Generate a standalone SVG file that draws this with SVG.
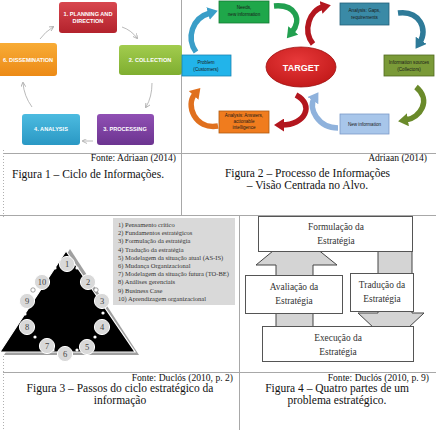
<svg xmlns="http://www.w3.org/2000/svg" width="436" height="430" viewBox="0 0 436 430">
<style>
.grid{stroke:#a8a8a8;stroke-width:1;fill:none}
.dot{stroke:#b0b0b0;stroke-width:1;stroke-dasharray:1,2;fill:none}
.cap{font-family:"Liberation Serif",serif;font-size:11.5px;fill:#111}
.src{font-family:"Liberation Serif",serif;font-size:9.6px;fill:#111}
.f1t{font-family:"Liberation Sans",Arial,sans-serif;font-size:5.6px;font-weight:bold;fill:#fff;text-anchor:middle}
.f2t{font-family:"Liberation Sans",Arial,sans-serif;font-size:4.6px;fill:#1a1a1a;text-anchor:middle}
.f1a{stroke:#a8a8a8;stroke-width:0.8;fill:none;marker-end:url(#ga)}
.f2a{stroke-width:5.5;fill:none;stroke-linecap:butt}
.lst{font-family:"Liberation Serif",serif;font-size:6.5px;fill:#333}
.circ{fill:#d9d9d9;stroke:#fff;stroke-width:1}
.num{font-family:"Liberation Serif",serif;font-size:8.5px;fill:#444;text-anchor:middle}
.sdot{fill:#fff;stroke:none}
.gear{fill:#fff;stroke:#666;stroke-width:0.6}
.f4b{fill:#fff;stroke:#555;stroke-width:1}
.f4a{fill:#d4d4d4;stroke:#444;stroke-width:1}
.f4t{font-family:"Liberation Serif",serif;font-size:9.4px;fill:#333;text-anchor:middle}
</style>
<defs>
<marker id="ga" markerUnits="userSpaceOnUse" markerWidth="5" markerHeight="5" refX="4" refY="2.5" orient="auto"><path d="M0,0 L5,2.5 L0,5" fill="none" stroke="#a8a8a8" stroke-width="0.8"/></marker>
<marker id="mBlue" markerUnits="userSpaceOnUse" markerWidth="11" markerHeight="13" refX="2" refY="6.5" orient="auto"><path d="M0,0 L10,6.5 L0,13 z" fill="#3a9ec8"/></marker>
<marker id="mGreen" markerUnits="userSpaceOnUse" markerWidth="11" markerHeight="13" refX="2" refY="6.5" orient="auto"><path d="M0,0 L10,6.5 L0,13 z" fill="#22a050"/></marker>
<marker id="mRed" markerUnits="userSpaceOnUse" markerWidth="11" markerHeight="13" refX="2" refY="6.5" orient="auto"><path d="M0,0 L10,6.5 L0,13 z" fill="#b3161e"/></marker>
<marker id="mTeal" markerUnits="userSpaceOnUse" markerWidth="11" markerHeight="13" refX="2" refY="6.5" orient="auto"><path d="M0,0 L10,6.5 L0,13 z" fill="#2e7a98"/></marker>
<marker id="mOlive" markerUnits="userSpaceOnUse" markerWidth="11" markerHeight="13" refX="2" refY="6.5" orient="auto"><path d="M0,0 L10,6.5 L0,13 z" fill="#6a8a2a"/></marker>
<marker id="mLBlue" markerUnits="userSpaceOnUse" markerWidth="11" markerHeight="13" refX="2" refY="6.5" orient="auto"><path d="M0,0 L10,6.5 L0,13 z" fill="#8fb2dc"/></marker>
<marker id="mOrange" markerUnits="userSpaceOnUse" markerWidth="11" markerHeight="13" refX="2" refY="6.5" orient="auto"><path d="M0,0 L10,6.5 L0,13 z" fill="#e0701e"/></marker>
<linearGradient id="gRed" x1="0" y1="0" x2="0" y2="1"><stop offset="0" stop-color="#d8474f"/><stop offset="1" stop-color="#b3222c"/></linearGradient>
<linearGradient id="gGreen" x1="0" y1="0" x2="0" y2="1"><stop offset="0" stop-color="#a2cc4e"/><stop offset="1" stop-color="#7fae30"/></linearGradient>
<linearGradient id="gPurple" x1="0" y1="0" x2="0" y2="1"><stop offset="0" stop-color="#9050b4"/><stop offset="1" stop-color="#6c3490"/></linearGradient>
<linearGradient id="gTeal" x1="0" y1="0" x2="0" y2="1"><stop offset="0" stop-color="#4cbbe0"/><stop offset="1" stop-color="#2a98c4"/></linearGradient>
<linearGradient id="gOrange" x1="0" y1="0" x2="0" y2="1"><stop offset="0" stop-color="#f8ac36"/><stop offset="1" stop-color="#ec8a16"/></linearGradient>
<radialGradient id="gTarget" cx="0.45" cy="0.35" r="0.7"><stop offset="0" stop-color="#e8393a"/><stop offset="1" stop-color="#c01818"/></radialGradient>
</defs>
<rect width="436" height="430" fill="#fff"/>

<!-- table grid -->
<g id="grid">
<line class="grid" x1="181.5" y1="0" x2="181.5" y2="215"/>
<line class="grid" x1="3" y1="153.5" x2="436" y2="153.5"/>
<line class="grid" x1="0" y1="215.5" x2="436" y2="215.5"/>
<line class="grid" x1="239.5" y1="215" x2="239.5" y2="430"/>
<line class="grid" x1="3" y1="372.5" x2="436" y2="372.5"/>
<line class="dot" x1="3.5" y1="150" x2="3.5" y2="218"/>
<line class="dot" x1="3.5" y1="356" x2="3.5" y2="430"/>
</g>

<!-- Figure 1 -->
<g id="fig1-connectors">
<path class="f1a" d="M122,27 Q131,30 137,38"/>
<path class="f1a" d="M152,83 Q152,97 146,107"/>
<path class="f1a" d="M93,141 L83,141"/>
<path class="f1a" d="M32,107 Q24,96 23,83"/>
<path class="f1a" d="M40,39 Q45,32 53,27"/>
</g>
<g id="f1-planning"><rect x="59" y="2" width="58" height="31" rx="3" fill="url(#gRed)"/><text class="f1t" x="88" y="16">1.  PLANNING AND</text><text class="f1t" x="88" y="22.5">DIRECTION</text></g>
<g id="f1-collection"><rect x="119" y="45" width="63" height="30" rx="3" fill="url(#gGreen)"/><text class="f1t" x="150" y="62">2. COLLECTION</text></g>
<g id="f1-processing"><rect x="97" y="114" width="57" height="31" rx="3" fill="url(#gPurple)"/><text class="f1t" x="125" y="131">3. PROCESSING</text></g>
<g id="f1-analysis"><rect x="22" y="114" width="58" height="31" rx="3" fill="url(#gTeal)"/><text class="f1t" x="51" y="131">4.  ANALYSIS</text></g>
<g id="f1-dissemination"><rect x="-3" y="43" width="60" height="33" rx="3" fill="url(#gOrange)"/><text class="f1t" x="28" y="61.5">6.  DISSEMINATION</text></g>

<!-- Figure 2 -->
<g id="fig2-connectors">
<path class="f2a" stroke="#3a9ec8" marker-end="url(#mBlue)" d="M196,52 C186,38 192,18 210,13"/>
<path class="f2a" stroke="#22a050" marker-end="url(#mGreen)" d="M274,6 C296,4 302,20 292,32"/>
<path class="f2a" stroke="#b3161e" marker-end="url(#mRed)" d="M313,44 C302,30 310,10 323,7"/>
<path class="f2a" stroke="#2e7a98" marker-end="url(#mTeal)" d="M398,13 C420,10 428,30 420,42"/>
<path class="f2a" stroke="#6a8a2a" marker-end="url(#mOlive)" d="M416,87 C432,100 420,118 406,120"/>
<path class="f2a" stroke="#8fb2dc" marker-end="url(#mLBlue)" d="M338,128 C318,128 308,108 314,99"/>
<path class="f2a" stroke="#b3161e" marker-end="url(#mRed)" d="M296,95 C315,105 305,125 282,125"/>
<path class="f2a" stroke="#e0701e" marker-end="url(#mOrange)" d="M218,126 C195,130 185,105 195,94"/>
</g>
<g id="f2-needs"><rect x="219" y="1" width="50" height="22" fill="#1fa74a" stroke="#127a34" stroke-width="0.8"/><text class="f2t" x="244" y="9">Needs,</text><text class="f2t" x="244" y="16">new information</text></g>
<g id="f2-gaps"><rect x="340" y="3" width="49" height="22" fill="#3a8aa6" stroke="#23607a" stroke-width="0.8"/><text class="f2t" x="364.5" y="12">Analysis: Gaps,</text><text class="f2t" x="364.5" y="19">requirements</text></g>
<g id="f2-problem"><rect x="182" y="55" width="49" height="21" fill="#22b4ea" stroke="#1a84b4" stroke-width="0.8"/><text class="f2t" x="206" y="64">Problem</text><text class="f2t" x="206" y="71">(Customers)</text></g>
<g id="f2-target"><ellipse cx="301" cy="67" rx="35" ry="20" fill="url(#gTarget)" stroke="#a01212" stroke-width="0.8"/><text x="301" y="70.5" font-family="Liberation Sans,Arial,sans-serif" font-size="9" font-weight="bold" fill="#fff" text-anchor="middle">TARGET</text></g>
<g id="f2-sources"><rect x="384" y="55" width="50" height="21" fill="#7a9a38" stroke="#506a20" stroke-width="0.8"/><text class="f2t" x="409" y="64">Information sources</text><text class="f2t" x="409" y="71">(Collectors)</text></g>
<g id="f2-answers"><rect x="219" y="111" width="50" height="22" fill="#f07c1e" stroke="#b05a10" stroke-width="0.8"/><text class="f2t" x="244" y="117">Analysis: Answers,</text><text class="f2t" x="244" y="123">actionable</text><text class="f2t" x="244" y="129">intelligence</text></g>
<g id="f2-newinfo"><rect x="340" y="114" width="49" height="20" fill="#a8c6ea" stroke="#7a9ac8" stroke-width="0.8"/><text class="f2t" x="364.5" y="126">New information</text></g>

<!-- Captions row 1 -->
<g id="captions-1">
<text class="src" x="176" y="161" text-anchor="end">Fonte: Adriaan (2014)</text>
<text class="cap" x="12" y="178">Figura 1 – Ciclo de Informações.</text>
<text class="src" x="427" y="161" text-anchor="end">Adriaan (2014)</text>
<text class="cap" x="307.5" y="176.5" text-anchor="middle">Figura 2 – Processo de Informações</text>
<text class="cap" x="307.5" y="188.5" text-anchor="middle">– Visão Centrada no Alvo.</text>
</g>

<!-- Figure 3 -->
<g id="f3-list">
<rect x="113" y="218" width="122" height="87" fill="#d9d9d9"/>
<text class="lst" x="118" y="227">1) Pensamento crítico</text>
<text class="lst" x="118" y="235.2">2) Fundamentos estratégicos</text>
<text class="lst" x="118" y="243.4">3) Formulação da estratégia</text>
<text class="lst" x="118" y="251.6">4) Tradução da estratégia</text>
<text class="lst" x="118" y="259.8">5) Modelagem da situação atual (AS-IS)</text>
<text class="lst" x="118" y="268">6) Mudança Organizacional</text>
<text class="lst" x="118" y="276.2">7) Modelagem da situação futura (TO-BE)</text>
<text class="lst" x="118" y="284.4">8) Análises gerenciais</text>
<text class="lst" x="118" y="292.6">9) Business Case</text>
<text class="lst" x="118" y="300.8">10) Aprendizagem organizacional</text>
</g>
<g id="f3-triangle">
<polygon points="70,249 4,355 139,355" fill="#a0a0a0"/>
<polygon points="66,251 0,352 135,352" fill="#000" stroke="#fff" stroke-width="1.2"/>
</g>
<g id="f3-links">
<circle class="sdot" cx="77" cy="268" r="1.6"/><circle class="sdot" cx="55" cy="268" r="1.6"/>
<circle class="gear" cx="96" cy="290" r="2.2"/><circle class="gear" cx="33" cy="290" r="2.2"/>
<circle class="sdot" cx="103" cy="313" r="1.6"/><circle class="sdot" cx="25" cy="314" r="1.6"/>
<circle class="sdot" cx="95" cy="337" r="1.6"/><circle class="sdot" cx="35" cy="337" r="1.6"/>
<circle class="sdot" cx="77" cy="350" r="1.6"/><circle class="sdot" cx="53" cy="350" r="1.6"/>
</g>
<g id="f3-s1"><circle class="circ" cx="67" cy="264" r="7.6"/><text class="num" x="67" y="267">1</text></g>
<g id="f3-s2"><circle class="circ" cx="88" cy="282" r="7.6"/><text class="num" x="88" y="285">2</text></g>
<g id="f3-s3"><circle class="circ" cx="102" cy="301" r="7.6"/><text class="num" x="102" y="304">3</text></g>
<g id="f3-s4"><circle class="circ" cx="102" cy="327" r="7.6"/><text class="num" x="102" y="330">4</text></g>
<g id="f3-s5"><circle class="circ" cx="87" cy="347" r="7.6"/><text class="num" x="87" y="350">5</text></g>
<g id="f3-s6"><circle class="circ" cx="65" cy="354" r="7.6"/><text class="num" x="65" y="357">6</text></g>
<g id="f3-s7"><circle class="circ" cx="47" cy="346" r="7.6"/><text class="num" x="47" y="349">7</text></g>
<g id="f3-s8"><circle class="circ" cx="27" cy="327" r="7.6"/><text class="num" x="27" y="330">8</text></g>
<g id="f3-s9"><circle class="circ" cx="27" cy="301" r="7.6"/><text class="num" x="27" y="304">9</text></g>
<g id="f3-s10"><circle class="circ" cx="42" cy="282" r="7.6"/><text class="num" x="42" y="285">10</text></g>

<!-- Figure 4 -->
<g id="fig4-connectors">
<path class="f4a" d="M276,330 L276,265 L256,265 L296,232 L337,265 L313,265 L313,330 Z"/>
<path class="f4a" d="M378,250 L378,313 L358,313 L391,344 L424,313 L412,313 L412,250 Z"/>
</g>
<g id="f4-formulacao"><rect class="f4b" x="258.5" y="216.5" width="154" height="35"/><text class="f4t" x="336" y="230">Formulação da</text><text class="f4t" x="336" y="244">Estratégia</text></g>
<g id="f4-avaliacao"><rect class="f4b" x="245.5" y="275.5" width="97" height="38"/><text class="f4t" x="294" y="290">Avaliação da</text><text class="f4t" x="294" y="304">Estratégia</text></g>
<g id="f4-traducao"><rect class="f4b" x="350.5" y="273.5" width="63" height="38"/><text class="f4t" x="382" y="288">Tradução da</text><text class="f4t" x="382" y="302">Estratégia</text></g>
<g id="f4-execucao"><rect class="f4b" x="262.5" y="326.5" width="151" height="35"/><text class="f4t" x="338" y="341">Execução da</text><text class="f4t" x="338" y="355">Estratégia</text></g>

<!-- Captions row 2 -->
<g id="captions-2">
<text class="src" x="233" y="381" text-anchor="end">Fonte: Duclós (2010, p. 2)</text>
<text class="cap" x="120" y="391.5" text-anchor="middle">Figura 3 – Passos do ciclo estratégico da</text>
<text class="cap" x="120" y="403.5" text-anchor="middle">informação</text>
<text class="src" x="429" y="381" text-anchor="end">Fonte: Duclós (2010, p. 9)</text>
<text class="cap" x="337" y="391.5" text-anchor="middle">Figura 4 – Quatro partes de um</text>
<text class="cap" x="337" y="403.5" text-anchor="middle">problema estratégico.</text>
</g>
</svg>
